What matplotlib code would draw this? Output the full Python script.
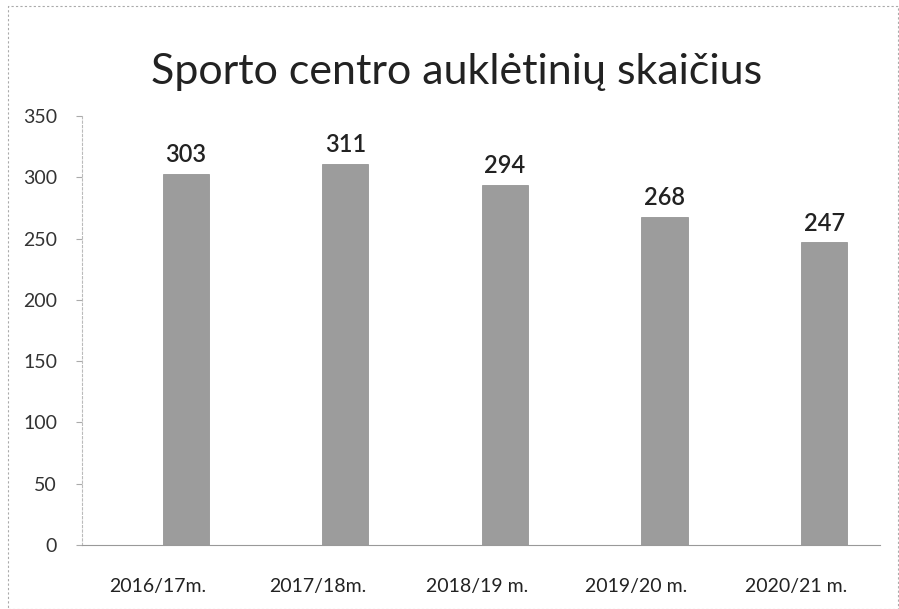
import matplotlib
matplotlib.use("Agg")
import matplotlib.pyplot as plt
from matplotlib.patches import Rectangle
from matplotlib.transforms import ScaledTranslation

categories = ["2016/17m.", "2017/18m.", "2018/19 m.", "2019/20 m.", "2020/21 m."]
values = [303, 311, 294, 268, 247]
yticks = [0, 50, 100, 150, 200, 250, 300, 350]

plt.rcParams['font.family'] = ['Lato', 'DejaVu Sans']

fig = plt.figure(figsize=(8.99, 6.09), dpi=100)
ax = fig.add_axes([82/899, 1 - 545/609, 798/899, (545-116)/609])

x = list(range(len(categories)))
ax.bar(x, values, width=0.29, color='#9c9c9c', edgecolor='#8a8a8a', linewidth=0.5)
for xi, v in zip(x, values):
    ax.text(xi, v + 6, str(v), ha='center', va='bottom', fontsize=17,
            fontweight='semibold', color='#222222')

ax.set_xlim(-0.65, 4.35)
ax.set_ylim(0, 350)
ax.set_yticks(yticks)
ax.set_yticklabels([str(t) for t in yticks], fontsize=14, color='#333333')
ax.set_xticks(x)
ax.set_xticklabels(categories, fontsize=14, color='#222222')
ax.tick_params(axis='x', length=0, pad=24)
ax.tick_params(axis='y', length=4, color='#aaaaaa', pad=14)
offset = ScaledTranslation(-28/100, 0, fig.dpi_scale_trans)
for lbl in ax.get_xticklabels():
    lbl.set_transform(lbl.get_transform() + offset)
for s in ['top', 'right']:
    ax.spines[s].set_visible(False)
ax.spines['left'].set_color('#bbbbbb')
ax.spines['left'].set_linestyle((0, (2, 2)))
ax.spines['bottom'].set_color('#999999')

fig.text(457/899, 1 - 72/609, "Sporto centro auklėtinių skaičius", ha='center', va='center',
         fontsize=31, color='#222222')

fig.patches.append(Rectangle((8/899, 0.0), 1 - 9/899, 1 - 6/609, transform=fig.transFigure,
                             fill=False, edgecolor='#aaaaaa', linewidth=0.8, linestyle=(0, (2, 2))))

fig.savefig("out.png", dpi=100)
